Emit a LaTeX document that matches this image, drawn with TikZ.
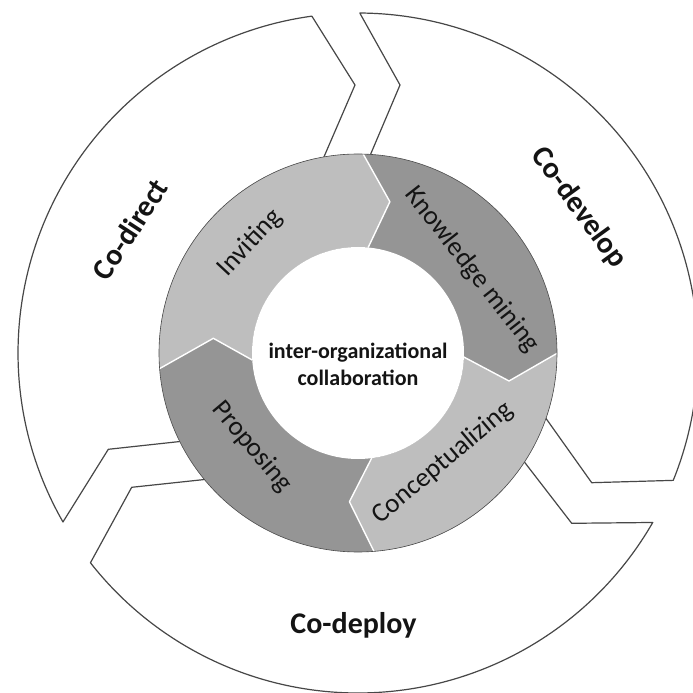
\documentclass[tikz,border=0pt]{standalone}
\usepackage{fontspec}
\setmainfont{Carlito}
\definecolor{lightseg}{gray}{0.745}
\definecolor{darkseg}{gray}{0.585}
\definecolor{outlinec}{gray}{0.28}
\definecolor{textc}{gray}{0.08}
\begin{document}
\begin{tikzpicture}[x=1pt,y=1pt,
  outershape/.style={draw=outlinec, line width=1.2pt, fill=white, line join=round},
  outerlabel/.style={font=\bfseries\fontsize{30}{36}\selectfont, text=textc},
  innerlabel/.style={font=\fontsize{27}{32}\selectfont, text=textc},
  sepline/.style={draw=white, line width=1.4pt, line join=round},
  lightfill/.style={fill=lightseg}]
\useasboundingbox (-358,-340) rectangle (335,353);
\clip (-358,-340) rectangle (335,353);
\fill[white] (-358,-340) rectangle (335,353);
% outer arrows
\draw[outershape] (-158.7,-86.4) -- (-249.7,-96.3) -- (209.8:340)
  arc[start angle=209.8, end angle=97.8, radius=340] -- (-3,268) -- (-41,180) -- cycle;
\draw[outershape] (5.2,181.3) -- (42,268) -- (89.7:340)
  arc[start angle=89.7, end angle=-22, radius=340] -- (233.7,-129.7) -- (177.3,-50.4) -- cycle;
\draw[outershape] (155.2,-94.5) -- (213.7,-170.3) -- (-29.9:340)
  arc[start angle=-29.9, end angle=-141.9, radius=340] -- (-226.3,-134.3) -- (-137.5,-124.8) -- cycle;
% inner ring
\fill[darkseg] (0,0) circle[radius=199];
\fill[lightfill] (88.5:199) arc[start angle=88.5, end angle=184.5, radius=199]
  -- (174.2:145.4) -- (183.8:106) arc[start angle=183.8, end angle=84.5, radius=106]
  -- (78.1:154.6) -- cycle;
\fill[lightfill] (-85.4:199) arc[start angle=-85.4, end angle=-0.1, radius=199]
  -- (-10.5:153.6) -- (-2.2:106) arc[start angle=-2.2, end angle=-82.6, radius=106]
  -- (-93.3:149) -- cycle;
\draw[sepline] (88.5:199) -- (78.1:154.6) -- (84.5:106);
\draw[sepline] (-0.1:199) -- (-10.5:153.6) -- (-2.2:106);
\draw[sepline] (-85.4:199) -- (-93.3:149) -- (-82.6:106);
\draw[sepline] (184.5:199) -- (174.2:145.4) -- (183.8:106);
\draw[gray!60!black, line width=0.6pt] (0,0) circle[radius=199];
\node[circle, fill=white, minimum size=212pt, inner sep=0pt] (core) at (0,0) {};
\node[font=\bfseries\fontsize{22}{27}\selectfont, text=textc, align=center] (coretext) at (0,-11)
  {inter-organizational\\collaboration};
% labels
\node[innerlabel, rotate=47] (inviting) at (-108,110) {Inviting};
\node[innerlabel, rotate=-52] (mining) at (114,83) {Knowledge mining};
\node[innerlabel, rotate=40] (concept) at (85,-110) {Conceptualizing};
\node[innerlabel, rotate=-50] (proposing) at (-106,-94) {Proposing};
\node[outerlabel, rotate=57] (codirect) at (-228,124) {Co-direct};
\node[outerlabel, rotate=-54] (codevelop) at (221,145) {Co-develop};
\node[outerlabel] (codeploy) at (-4.5,-272) {Co-deploy};
\end{tikzpicture}
\end{document}
